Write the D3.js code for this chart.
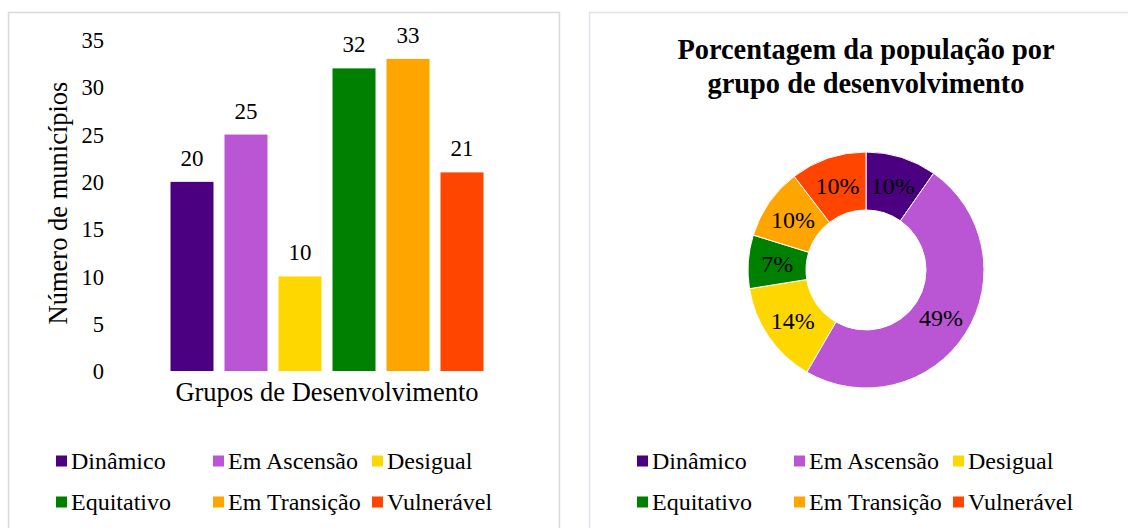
<!DOCTYPE html>
<html>
<head>
<meta charset="utf-8">
<script src="https://cdn.jsdelivr.net/npm/d3@7"></script>
<style>
body{margin:0;background:#fff;}
text{font-family:"Liberation Serif","Times New Roman",serif;fill:#000;}
</style>
</head>
<body>
<script>
var groups=["Dinâmico","Em Ascensão","Desigual","Equitativo","Em Transição","Vulnerável"];
var colors=["#4b0082","#ba55d3","#ffd700","#008000","#ffa500","#ff4500"];
var municipios=[20,25,10,32,33,21];
var populacao=[9.7,48.6,14.1,7.3,9.8,10.4];
var yTicks=[0,5,10,15,20,25,30,35];
var barTitle="Grupos de Desenvolvimento", yTitle="Número de municípios";
var pieTitle=["Porcentagem da população por","grupo de desenvolvimento"];

var width=1128, height=528;
var svg=d3.select("body").append("svg").attr("width",width).attr("height",height);

// panel frames
svg.append("rect").attr("x",8.5).attr("y",12.5).attr("width",551).attr("height",540).
	attr("fill","#fff").attr("stroke","#d9d9d9").attr("stroke-width",1.5);
svg.append("rect").attr("x",589.5).attr("y",12.5).attr("width",560).attr("height",540).
	attr("fill","#fff").attr("stroke","#dfe4ea").attr("stroke-width",1.5);

// ---- bar chart ----
var x=d3.scaleBand().domain(groups).range([165,489]).paddingInner(0.2037).paddingOuter(0.1019);
var y=d3.scaleLinear().domain([0,35]).range([371,40]);

var yAxis=svg.append("g").attr("transform","translate(104,0)").
	call(d3.axisLeft(y).tickValues(yTicks).tickSize(0).tickPadding(0));
yAxis.attr("font-family","Liberation Serif");
yAxis.select(".domain").remove();
yAxis.selectAll("text").style("font-size","22.5px").attr("dy","0.34em").
	style("font-family","Liberation Serif").attr("fill","#000");

svg.selectAll(".bar").data(municipios).enter().append("rect").
	attr("x",function(d,i){return x(groups[i]);}).
	attr("y",function(d){return y(d);}).
	attr("width",x.bandwidth()).
	attr("height",function(d){return y(0)-y(d);}).
	attr("fill",function(d,i){return colors[i];});

svg.selectAll(".val").data(municipios).enter().append("text").
	attr("x",function(d,i){return x(groups[i])+x.bandwidth()/2;}).
	attr("y",function(d){return y(d)-16;}).
	attr("text-anchor","middle").style("font-size","23px").
	text(function(d){return d;});

svg.append("text").attr("x",327).attr("y",401).attr("text-anchor","middle").
	style("font-size","26.5px").text(barTitle);

svg.append("text").attr("transform","translate(67,203) rotate(-90)").attr("text-anchor","middle").
	style("font-size","26.5px").text(yTitle);

// ---- donut ----
var cx=866, cy=270, rOut=118, rIn=60;
var pie=d3.pie().sort(null).value(function(d){return d;});
var arc=d3.arc().innerRadius(rIn).outerRadius(rOut);
var donut=svg.append("g").attr("transform","translate("+cx+","+cy+")");
var slices=pie(populacao);
donut.selectAll("path").data(slices).enter().append("path").
	attr("d",arc).attr("fill",function(d,i){return colors[i];}).
	attr("stroke","#fff").attr("stroke-width",1);
donut.selectAll(".lbl").data(slices).enter().append("text").
	attr("transform",function(d){return "translate("+arc.centroid(d)+")";}).
	attr("text-anchor","middle").attr("dy","0.35em").style("font-size","24px").
	text(function(d){return Math.round(d.value)+"%";});

svg.selectAll(".ptitle").data(pieTitle).enter().append("text").
	attr("x",866).attr("y",function(d,i){return 59+i*34;}).
	attr("text-anchor","middle").style("font-size","28.4px").style("font-weight","bold").
	text(function(d){return d;});

// ---- legends ----
function legend(x0) {
	var colX=[0,157,316];
	var g=svg.append("g").attr("transform","translate("+x0+",0)");
	var items=g.selectAll(".leg").data(groups).enter().append("g").
		attr("transform",function(d,i){return "translate("+colX[i%3]+","+(i<3?461:502)+")";});
	items.append("rect").attr("x",0).attr("y",-5.5).attr("width",11).attr("height",11).
		attr("fill",function(d,i){return colors[i];});
	items.append("text").attr("x",15).attr("y",8).style("font-size","24px").
		text(function(d){return d;});
}
legend(56);
legend(637);
</script>
</body>
</html>
